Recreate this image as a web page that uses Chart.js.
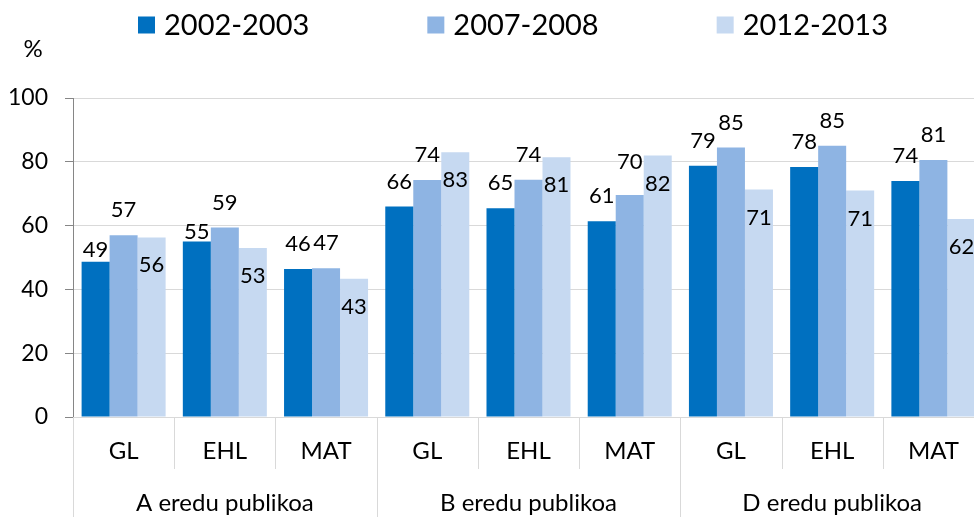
<!DOCTYPE html>
<html>
<head>
<meta charset="utf-8">
<script src="https://cdn.jsdelivr.net/npm/chart.js@4.4.1/dist/chart.umd.min.js"></script>
<style>
  html, body { margin: 0; padding: 0; background: #fff; overflow: hidden; width: 974px; height: 517px; }
  #wrap { position: absolute; left: 0; top: 0; width: 1000px; height: 517px; }
</style>
</head>
<body>
<div id="wrap"><canvas id="c" width="1000" height="517"></canvas></div>
<script>
const categories = ['GL', 'EHL', 'MAT', 'GL', 'EHL', 'MAT', 'GL', 'EHL', 'MAT'];
const groups = ['A eredu publikoa', 'B eredu publikoa', 'D eredu publikoa'];
const seriesNames = ['2002-2003', '2007-2008', '2012-2013'];
const s2002 = [48.7, 55, 46.4, 66, 65.4, 61.4, 78.8, 78.4, 74];
const s2007 = [57, 59.4, 46.6, 74.3, 74.4, 69.6, 84.5, 85, 80.6];
const s2012 = [56.3, 53, 43.3, 83, 81.4, 82, 71.3, 71, 62.1];
const yTicks = [0, 20, 40, 60, 80, 100];

const colors = ['#0070C0', '#8EB4E3', '#C6D9F1'];
const FONT = 'Lato';

const labelPlugin = {
  id: 'barLabels',
  afterDatasetsDraw(chart) {
    const ctx = chart.ctx;
    ctx.save();
    ctx.font = '22px ' + FONT;
    ctx.fillStyle = '#000';
    ctx.textAlign = 'center';
    ctx.textBaseline = 'middle';
    const lifts = { '0-0': 12, '0-1': 10, '1-5': 33 };
    chart.data.datasets.forEach((ds, di) => {
      const meta = chart.getDatasetMeta(di);
      meta.data.forEach((bar, i) => {
        const txt = String(Math.round(ds.data[i]));
        let y;
        if (di === 2) {
          y = bar.y + 28;
        } else {
          const l = lifts[di + '-' + i];
          y = bar.y - (l !== undefined ? l : 25);
        }
        ctx.fillText(txt, bar.x, y);
      });
    });
    ctx.restore();
  }
};

const decorPlugin = {
  id: 'decor',
  afterDraw(chart) {
    const ctx = chart.ctx;
    const x = chart.scales.x;
    const area = chart.chartArea;
    ctx.save();
    ctx.strokeStyle = '#d9d9d9';
    ctx.lineWidth = 1;
    const n = categories.length;
    const w = (x.right - x.left) / n;
    for (let i = 0; i <= n; i++) {
      const px = Math.round(x.left + i * w) + 0.5;
      const y2 = (i % 3 === 0) ? chart.height : area.bottom + 52;
      ctx.beginPath();
      ctx.moveTo(px, area.bottom);
      ctx.lineTo(px, y2);
      ctx.stroke();
    }
    ctx.fillStyle = '#000';
    ctx.font = '24px ' + FONT;
    ctx.textAlign = 'center';
    ctx.textBaseline = 'middle';
    ctx.fillText('%', 33, 49);
    ctx.font = '29px ' + FONT;
    ctx.textAlign = 'left';
    const box = 17, tgap = 9, igap = 118;
    const items = chart.data.datasets.map(d => ({ label: d.label, color: d.backgroundColor, w: ctx.measureText(d.label).width }));
    const total = items.reduce((s, it) => s + box + tgap + it.w, 0) + igap * (items.length - 1);
    let cx = 513 - total / 2;
    const cy = 25;
    items.forEach(it => {
      ctx.fillStyle = it.color;
      ctx.fillRect(cx, cy - box / 2, box, box);
      ctx.fillStyle = '#000';
      ctx.fillText(it.label, cx + box + tgap, cy + 1);
      cx += box + tgap + it.w + igap;
    });
    ctx.restore();
  }
};

new Chart(document.getElementById('c'), {
  type: 'bar',
  data: {
    labels: categories,
    datasets: [
      { label: seriesNames[0], data: s2002, backgroundColor: colors[0] },
      { label: seriesNames[1], data: s2007, backgroundColor: colors[1] },
      { label: seriesNames[2], data: s2012, backgroundColor: colors[2] }
    ]
  },
  options: {
    responsive: false,
    animation: false,
    devicePixelRatio: 1,
    layout: { padding: { top: 98, right: 16, left: 0, bottom: 0 } },
    datasets: { bar: { categoryPercentage: 0.83, barPercentage: 1.0, borderWidth: 0 } },
    plugins: { legend: { display: false }, tooltip: { enabled: false } },
    scales: {
      y: {
        min: 0, max: 100,
        afterBuildTicks: s => { s.ticks = yTicks.map(v => ({ value: v })); },
        ticks: { font: { family: FONT, size: 23 }, color: '#000', padding: 17 },
        grid: { color: '#d9d9d9', tickColor: '#868686', tickLength: 8 },
        border: { color: '#868686' },
        afterFit: s => { s.width = 73; }
      },
      x: {
        type: 'category',
        grid: { display: false },
        border: { color: '#d9d9d9' },
        ticks: { font: { family: FONT, size: 24 }, color: '#000', padding: 12, maxRotation: 0, autoSkip: false },
        afterFit: s => { s.height = 55; }
      },
      x2: {
        type: 'category',
        position: 'bottom',
        labels: groups,
        offset: true,
        grid: { display: false },
        border: { display: false },
        ticks: { font: { family: FONT, size: 24 }, color: '#000', padding: 9, maxRotation: 0, autoSkip: false },
        afterFit: s => { s.height = 45; }
      }
    }
  },
  plugins: [labelPlugin, decorPlugin]
});
</script>
</body>
</html>
